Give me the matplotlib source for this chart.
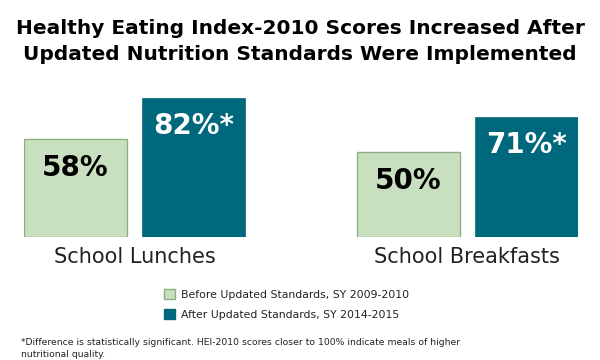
import matplotlib
matplotlib.use("Agg")
import matplotlib.pyplot as plt
import numpy as np
from matplotlib.patches import Patch

categories = ["School Lunches", "School Breakfasts"]
before = [58, 50]
after = [82, 71]
before_labels = ["58%", "50%"]
after_labels = ["82%*", "71%*"]
legend_labels = ["Before Updated Standards, SY 2009-2010",
                 "After Updated Standards, SY 2014-2015"]

green = "#c9e0c0"
green_edge = "#8fae80"
teal = "#00687d"

plt.rcParams["font.family"] = ["DejaVu Sans"]

fig = plt.figure(figsize=(6, 3.6), dpi=100)
ax = fig.add_axes([0.04, 0.342, 0.923, 0.469])

x = np.arange(len(categories))
w = 0.309
off = 0.177
b1 = ax.bar(x - off, before, w, color=green, edgecolor=green_edge, linewidth=1)
b2 = ax.bar(x + off, after, w, color=teal, edgecolor=teal, linewidth=0.5)

for rect, lab in zip(b1, before_labels):
    ax.annotate(lab, (rect.get_x() + rect.get_width() / 2, rect.get_height()),
                xytext=(0, -29), textcoords="offset pixels", ha="center", va="center",
                fontsize=20, fontweight="bold", color="black")
for rect, lab in zip(b2, after_labels):
    ax.annotate(lab, (rect.get_x() + rect.get_width() / 2, rect.get_height()),
                xytext=(0, -28), textcoords="offset pixels", ha="center", va="center",
                fontsize=20, fontweight="bold", color="white")

ax.set_xlim(-0.332, 1.332)
ax.set_ylim(0, 100)
ax.set_xticks(x)
ax.set_xticklabels(categories, fontsize=15, color="#222222")
ax.tick_params(axis="x", length=0, pad=7.5)
ax.set_yticks([])
for s in ax.spines.values():
    s.set_visible(False)

fig.text(0.5, 0.885, "Healthy Eating Index-2010 Scores Increased After\n"
         "Updated Nutrition Standards Were Implemented",
         ha="center", va="center", fontsize=14.5, fontweight="bold",
         linespacing=1.5)

handles = [Patch(facecolor=green, edgecolor=green_edge),
           Patch(facecolor=teal, edgecolor=teal)]
fig.legend(handles, legend_labels, loc="upper left", bbox_to_anchor=(0.273, 0.197),
           frameon=False, fontsize=7.8, handlelength=1.0, handleheight=1.05,
           handletextpad=0.55, labelspacing=0.85, borderpad=0, borderaxespad=0,
           labelcolor="#222222")

fig.text(0.035, 0.032, "*Difference is statistically significant. HEI-2010 scores closer to 100% indicate meals of higher\n"
         "nutritional quality.", ha="left", va="center", fontsize=6.7, linespacing=1.45,
         color="#222222")

fig.savefig("out.png", dpi=100)
